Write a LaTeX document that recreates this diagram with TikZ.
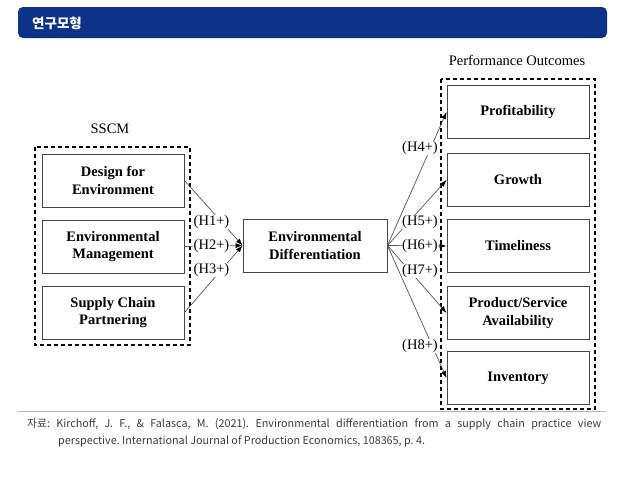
\documentclass[tikz,border=0pt]{standalone}
\usepackage{fontspec}
\setmainfont{Liberation Serif}
\newfontfamily\krfont{Noto Sans CJK KR}
\usetikzlibrary{arrows.meta}
\definecolor{hdrblue}{RGB}{14,50,135}
\definecolor{lngray}{RGB}{85,85,85}
\definecolor{capgray}{RGB}{60,60,60}
\frenchspacing

\begin{document}
\begin{tikzpicture}[x=1pt,y=1pt,yscale=-1,
  construct/.style={draw={rgb,255:red,70;green,70;blue,70},line width=0.9pt,minimum width=142pt,minimum height=53pt,inner sep=0pt,align=center,font=\fontsize{14.5}{17.5}\selectfont\bfseries},
  dashgroup/.style={draw=black,line width=1.1pt,dash pattern=on 4pt off 3pt},
  hpath/.style={draw=lngray,line width=0.7pt,-{Latex[length=7pt,width=5pt,color=black]}},
  hyp/.style={fill=white,inner sep=0.5pt,font=\fontsize{14.5}{17}\selectfont},
  grouptitle/.style={inner sep=0pt,font=\fontsize{14.5}{17}\selectfont}]
\useasboundingbox (0,0) rectangle (618,479);

%Header bar
\fill [hdrblue,rounded corners=5pt] (18,7) rectangle (607,38);
\node (title) [anchor=west,inner sep=0pt,text=white,font=\krfont\fontsize{13.5}{15}\selectfont\bfseries] at (32,23) {연구모형};

%Dashed groups
\draw [dashgroup] (35,147) rectangle (190,345);
\draw [dashgroup] (441,79) rectangle (595,409);
\node (sscm) [grouptitle] at (110,129) {SSCM};
\node (perf) [grouptitle] at (517,60) {Performance Outcomes};

%SSCM constructs
\node (dfe) [construct] at (113,180.5) {Design for\\Environment};
\node (em)  [construct] at (113,246.5) {Environmental\\Management};
\node (scp) [construct] at (113,312.5) {Supply Chain\\Partnering};

%Central construct
\node (ed) [construct,minimum width=144pt] at (315,245.5) {Environmental\\Differentiation};

%Performance outcomes
\node (prof)  [construct] at (518,112) {Profitability};
\node (grow)  [construct] at (518,180) {Growth};
\node (time)  [construct] at (518,246) {Timeliness};
\node (avail) [construct] at (518,313) {Product/Service\\Availability};
\node (inv)   [construct] at (518,378) {Inventory};

%Hypothesised paths
\draw [hpath] (dfe.east) -- (ed.west);
\draw [hpath] (em.east) -- (ed.west);
\draw [hpath] (scp.east) -- (ed.west);
\draw [hpath] (ed.east) -- (prof.west);
\draw [hpath] (ed.east) -- (grow.west);
\draw [hpath] (ed.east) -- (time.west);
\draw [hpath] (ed.east) -- (avail.west);
\draw [hpath] (ed.east) -- (inv.west);

%Path labels
\node (h1) [hyp] at (211.5,222) {(H1+)};
\node (h2) [hyp] at (211.5,246) {(H2+)};
\node (h3) [hyp] at (211.5,270) {(H3+)};
\node (h4) [hyp] at (420,148) {(H4+)};
\node (h5) [hyp] at (420,222) {(H5+)};
\node (h6) [hyp] at (420,246) {(H6+)};
\node (h7) [hyp] at (420,271) {(H7+)};
\node (h8) [hyp] at (420,346) {(H8+)};

%Source note
\draw [gray!55,line width=0.8pt] (18,411) -- (606,411);
\node (src1) [anchor=west,inner sep=0pt,text=capgray,font=\krfont\fontsize{10.8}{13}\selectfont] at (27,424)
  {\makebox[574pt][s]{자료: Kirchoff, J. F., \& Falasca, M. (2021). Environmental differentiation from a supply chain practice view}};
\node (src2) [anchor=west,inner sep=0pt,text=capgray,font=\krfont\fontsize{10.8}{13}\selectfont] at (58,441)
  {perspective. International Journal of Production Economics, 108365, p. 4.};

\end{tikzpicture}
\end{document}
